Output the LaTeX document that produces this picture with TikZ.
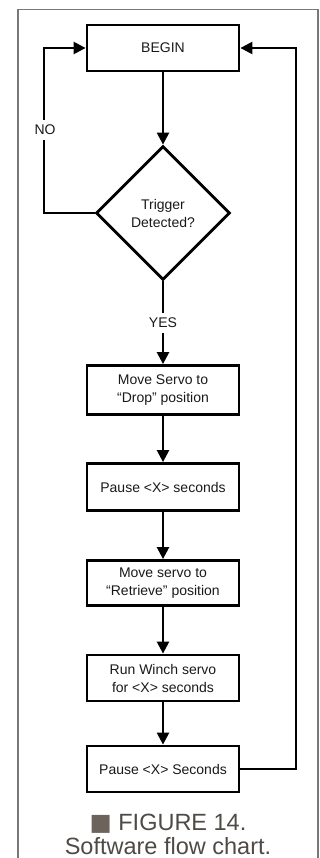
\documentclass[tikz,border=0pt]{standalone}
\usepackage{fontspec}
\setmainfont{Liberation Sans}
\newfontfamily\symfont{DejaVu Sans}
\usetikzlibrary{shapes.geometric, arrows.meta, positioning}
\definecolor{framegray}{RGB}{120,120,120}
\definecolor{inkgray}{RGB}{25,25,25}
\definecolor{capgray}{RGB}{78,74,70}
\definecolor{squaregray}{RGB}{108,100,92}

\tikzset{
  stepbox/.style={draw=black, line width=2.8pt, minimum width=152pt, minimum height=47pt,
    inner sep=0pt, align=center, text=inkgray, font=\fontsize{14}{18}\selectfont},
  decision/.style={diamond, draw=black, line width=2.8pt, minimum size=134pt, inner sep=0pt,
    align=center, text=inkgray, font=\fontsize{14}{18}\selectfont},
  flow/.style={line width=2.4pt, -{Triangle[length=12pt, width=12pt]}},
  branch/.style={fill=white, inner xsep=2pt, inner ysep=5pt, text=inkgray, font=\fontsize{14}{18}\selectfont}
}

\begin{document}
\begin{tikzpicture}[x=1pt, y=-1pt]
  \useasboundingbox (0,0) rectangle (320,858);

  % outer frame (open at the bottom)
  \draw[framegray, line width=1.3pt] (18,870) -- (18,9.5) -- (318,9.5) -- (318,870);

  % steps
  \node[stepbox, minimum height=46pt] (begin) at (163,48) {BEGIN};
  \node[decision] (trigger) at (163,213) {Trigger\\Detected?};
  \node[stepbox, minimum height=49pt] (drop) at (163,390) {Move Servo to\\“Drop” position};
  \node[stepbox] (pausea) at (163,487) {Pause <X> seconds};
  \node[stepbox, minimum height=45pt] (retrieve) at (163,583) {Move servo to\\“Retrieve” position};
  \node[stepbox, minimum height=46pt] (winch) at (163,678) {Run Winch servo\\for <X> seconds};
  \node[stepbox, minimum height=46pt] (pauseb) at (163,769) {Pause <X> Seconds};

  % loop corners
  \coordinate (nocorner) at (44,213);
  \coordinate (backcorner) at (296,769);

  % connectors
  \draw[flow] (begin) -- (trigger);
  \draw[flow] (trigger.west) -- (nocorner) |- (begin.west);
  \node[branch] (no) at (45,130) {NO};
  \draw[flow] (trigger.south) -- (drop.north);
  \node[branch] (yes) at (163,323) {YES};
  \draw[flow] (drop) -- (pausea);
  \draw[flow] (pausea) -- (retrieve);
  \draw[flow] (retrieve) -- (winch);
  \draw[flow] (winch) -- (pauseb);
  \draw[flow] (pauseb.east) -- (backcorner) |- (begin.east);

  % caption
  \node[anchor=base, text=capgray, font=\fontsize{23.5}{24}\selectfont] (caphead) at (168,830)
    {\textcolor{squaregray}{\symfont ■} FIGURE 14.};
  \node[anchor=base, text=capgray, font=\fontsize{23.5}{24}\selectfont] (captail) at (168,854)
    {Software flow chart.};
\end{tikzpicture}
\end{document}
